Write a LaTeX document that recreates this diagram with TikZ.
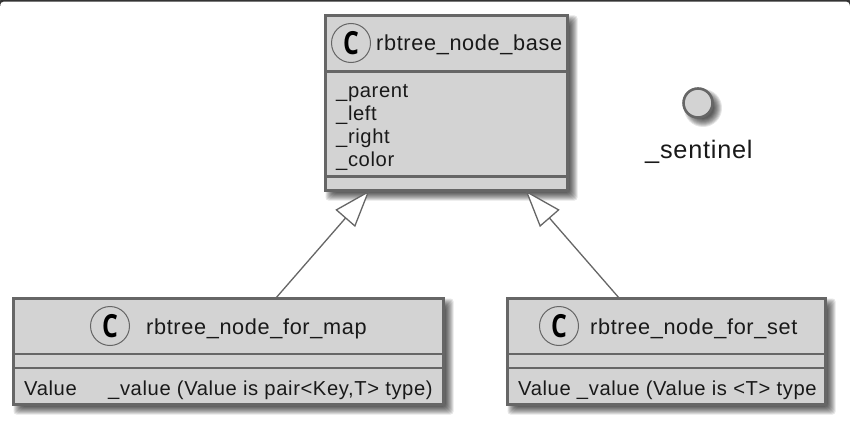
\documentclass[tikz,border=0pt]{standalone}
\usepackage{fontspec}
\usepackage{graphicx}
\setmainfont[LetterSpace=3]{Liberation Sans}
\newfontfamily\cfont{Open Sans}
\usetikzlibrary{arrows.meta,backgrounds}
\definecolor{boxfill}{HTML}{D3D3D3}
\definecolor{boxline}{HTML}{666666}
\newcommand{\softshadow}[1]{%
  \foreach \s in {5,4,3,2,1,0,-1,-2,-3}{%
    \pgfmathsetmacro{\shnw}{5-\s}%
    \pgfmathsetmacro{\shse}{5+\s}%
    \fill[black,opacity=.1,rounded corners=3pt]
      ([xshift=\shnw pt,yshift=-\shnw pt]#1.north west)
      rectangle ([xshift=\shse pt,yshift=-\shse pt]#1.south east);
  }}
\newcommand{\softdot}[3]{%
  \foreach \s in {5,4,3,2,1,0,-1,-2,-3}{%
    \pgfmathsetmacro{\shr}{#3+\s}%
    \fill[black,opacity=.1] ([xshift=#2 pt,yshift=-#2 pt]#1.center) circle[radius=\shr pt];
  }}
\tikzset{
  x=1pt,y=-1pt,
  classbox/.style={draw=boxline,fill=boxfill,line width=2.6pt,inner sep=0pt,outer sep=0pt,rectangle},
  divider/.style={draw=boxline,line width=2.4pt},
  badge/.style={circle,draw=boxline,fill=boxfill,line width=1pt,minimum size=39pt,inner sep=0pt,outer sep=0pt,font=\cfont\fontsize{27}{30}\selectfont\bfseries\color{black}},
  titletext/.style={anchor=base west,inner sep=0pt,font=\fontsize{21.7}{24}\selectfont,text=black!90},
  membertext/.style={anchor=base west,inner sep=0pt,font=\fontsize{20.2}{22}\selectfont,text=black!90},
  sentineltext/.style={anchor=base west,inner sep=0pt,font=\fontsize{25.3}{28}\selectfont,text=black!90},
  interfacedot/.style={circle,draw=boxline,fill=boxfill,line width=2.6pt,minimum size=29pt,inner sep=0pt,outer sep=0pt},
  inherit/.style={draw=boxline,line width=1.3pt,-{Triangle[open,fill=white,length=37pt,width=26pt]}},
}
\newcommand{\cglyph}{\scalebox{.92}[1.18]{C}}
\begin{document}
\begin{tikzpicture}
\useasboundingbox (0,0) rectangle (850,428);
% boxes
\node[classbox,minimum width=242pt,minimum height=175pt] (base) at (446.5,103) {};
\node[classbox,minimum width=430pt,minimum height=106pt] (map) at (228.5,351.5) {};
\node[classbox,minimum width=318pt,minimum height=106pt] (set) at (666.5,351.5) {};
\node[interfacedot] (sentinel) at (698,103) {};
\begin{scope}[on background layer]
  \fill[white] (0,0) rectangle (850,428);
  \softshadow{base}
  \softshadow{map}
  \softshadow{set}
  \softdot{sentinel}{5}{14}
  \draw[black!80,line width=2.5pt,rounded corners=4pt] (-1,6) -- (-1,0.5) -- (851,0.5) -- (851,6);
\end{scope}
% dividers
\draw[divider] ([yshift=-56pt]base.north west) -- ([yshift=-56pt]base.north east);
\draw[divider] ([yshift=14pt]base.south west) -- ([yshift=14pt]base.south east);
\draw[divider] ([yshift=-55.5pt]map.north west) -- ([yshift=-55.5pt]map.north east);
\draw[divider] ([yshift=-69.5pt]map.north west) -- ([yshift=-69.5pt]map.north east);
\draw[divider] ([yshift=-55.5pt]set.north west) -- ([yshift=-55.5pt]set.north east);
\draw[divider] ([yshift=-69.5pt]set.north west) -- ([yshift=-69.5pt]set.north east);
% badges
\node[badge] (cbase) at (351,43) {\cglyph};
\node[badge] (cmap) at (110,326) {\cglyph};
\node[badge] (cset) at (559,326) {\cglyph};
% texts
\node[titletext] (tbase) at (376,51) {rbtree\_node\_base};
\node[titletext] (tmap) at (146,334) {rbtree\_node\_for\_map};
\node[titletext] (tset) at (590,334) {rbtree\_node\_for\_set};
\node[membertext] (m1) at (336,97) {\_parent};
\node[membertext] (m2) at (336,120) {\_left};
\node[membertext] (m3) at (336,143) {\_right};
\node[membertext] (m4) at (336,166) {\_color};
\node[membertext] (v1) at (24,395) {Value};
\node[membertext] (v2) at (108,395) {\_value (Value is pair<Key,T> type)};
\node[membertext] (v3) at (518,395) {Value \_value (Value is <T> type};
\node[sentineltext] (stext) at (645,158) {\_sentinel};
% connectors
\draw[inherit] ([xshift=262pt]map.north west) -- ([xshift=44pt]base.south west);
\draw[inherit] ([xshift=112pt]set.north west) -- ([xshift=-42pt]base.south east);
\end{tikzpicture}
\end{document}
